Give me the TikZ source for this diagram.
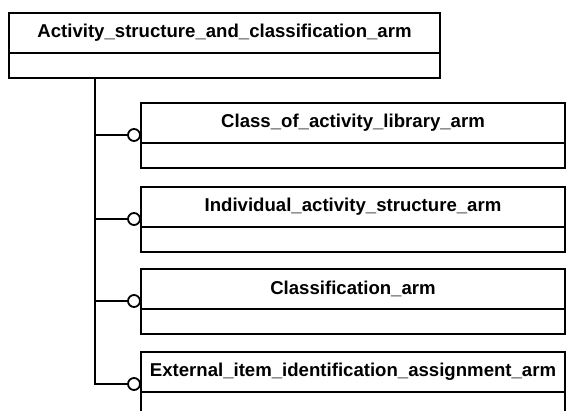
\documentclass[tikz,border=0pt]{standalone}
\usepackage{fontspec}
\setmainfont{Liberation Sans}
\usetikzlibrary{calc,positioning}

\tikzset{
  entity head/.style={draw,line width=2pt,rectangle,inner sep=0pt,outer sep=0pt,anchor=north west,
    minimum height=40pt,font=\bfseries\fontsize{18.6}{22}\selectfont},
  entity body/.style={draw,line width=2pt,rectangle,inner sep=0pt,outer sep=0pt,anchor=north,minimum height=25pt},
  ring/.style={draw,circle,line width=1.8pt,fill=white,inner sep=0pt,outer sep=0pt,minimum size=12pt,anchor=east,
    xshift=-1pt,yshift=8pt},
  trunk/.style={line width=1.6pt}
}

\begin{document}
\begin{tikzpicture}[x=1pt,y=-1pt]
  \useasboundingbox (0,0) rectangle (567,411);
  \clip (0,0) rectangle (567,411);

  \node[entity head,minimum width=431pt] (activity head) at (9,13) {Activity\_structure\_and\_classification\_arm};
  \node[entity body,minimum width=431pt] (activity body) at (activity head.south) {};

  \node[entity head,minimum width=424pt] (library head) at (141,103) {Class\_of\_activity\_library\_arm};
  \node[entity body,minimum width=424pt] (library body) at (library head.south) {};

  \node[entity head,minimum width=424pt] (individual head) at (141,187) {Individual\_activity\_structure\_arm};
  \node[entity body,minimum width=424pt] (individual body) at (individual head.south) {};

  \node[entity head,minimum width=424pt] (classification head) at (141,269) {Classification\_arm};
  \node[entity body,minimum width=424pt] (classification body) at (classification head.south) {};

  \node[entity head,minimum width=424pt] (external head) at (141,352) {External\_item\_identification\_assignment\_arm};
  \node[entity body,minimum width=424pt] (external body) at (external head.south) {};

  \node[ring] (library ring) at (library head.south west) {};
  \node[ring] (individual ring) at (individual head.south west) {};
  \node[ring] (classification ring) at (classification head.south west) {};
  \node[ring] (external ring) at (external head.south west) {};

  \coordinate (trunk top) at ($(activity body.south west)+(86,0)$);

  \draw[trunk] (trunk top) |- (external ring.west);
  \draw[trunk] (trunk top |- library ring) -- (library ring.west);
  \draw[trunk] (trunk top |- individual ring) -- (individual ring.west);
  \draw[trunk] (trunk top |- classification ring) -- (classification ring.west);
\end{tikzpicture}
\end{document}
